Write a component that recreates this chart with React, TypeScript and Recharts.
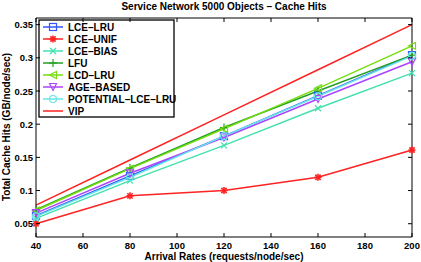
import React from 'react';
import { LineChart, Line, XAxis, YAxis } from 'recharts';

const rates = [40, 80, 120, 160, 200];
const lceLru = [0.062, 0.122, 0.182, 0.243, 0.304];
const lceUnif = [0.05, 0.092, 0.1, 0.12, 0.161];
const lceBias = [0.058, 0.115, 0.168, 0.224, 0.277];
const lfu = [0.071, 0.134, 0.195, 0.25, 0.304];
const lcdLru = [0.07, 0.133, 0.193, 0.254, 0.318];
const ageBased = [0.066, 0.126, 0.18, 0.238, 0.294];
const potentialLceLru = [0.061, 0.12, 0.182, 0.242, 0.303];
const vip = [0.078, 0.146, 0.214, 0.282, 0.35];

const xTicks = [40, 60, 80, 100, 120, 140, 160, 180, 200];
const yTicks = [0.05, 0.1, 0.15, 0.2, 0.25, 0.3, 0.35];

const titleText = 'Service Network 5000 Objects \u2013 Cache Hits';
const xLabelText = 'Arrival Rates (requests/node/sec)';
const yLabelText = 'Total Cache Hits (GB/node/sec)';

const series = [
  { key: 'lceLru', name: 'LCE\u2013LRU', color: '#3355ff', marker: 'square', values: lceLru },
  { key: 'lceUnif', name: 'LCE\u2013UNIF', color: '#ff2222', marker: 'star', values: lceUnif },
  { key: 'lceBias', name: 'LCE\u2013BIAS', color: '#44e0b0', marker: 'x', values: lceBias },
  { key: 'lfu', name: 'LFU', color: '#22a022', marker: 'plus', values: lfu },
  { key: 'lcdLru', name: 'LCD\u2013LRU', color: '#77dd11', marker: 'left', values: lcdLru },
  { key: 'ageBased', name: 'AGE\u2013BASED', color: '#aa44ff', marker: 'down', values: ageBased },
  { key: 'potentialLceLru', name: 'POTENTIAL\u2013LCE\u2013LRU', color: '#66e6e6', marker: 'circle', values: potentialLceLru },
  { key: 'vip', name: 'VIP', color: '#ff2222', marker: 'none', values: vip },
];

const data = rates.map((r, i) => {
  const row: any = { rate: r };
  series.forEach((s) => { row[s.key] = s.values[i]; });
  return row;
});

const FONT = '"Liberation Sans", Arial, Helvetica, sans-serif';

function Marker({ type, cx, cy, color }: any) {
  const r = 3.5;
  if (cx == null || cy == null) return <g />;
  switch (type) {
    case 'square':
      return <rect x={cx - r} y={cy - r} width={2 * r} height={2 * r} fill="none" stroke={color} strokeWidth={1.2} />;
    case 'star':
      return (
        <g stroke={color} strokeWidth={1.6}>
          <line x1={cx - r} y1={cy} x2={cx + r} y2={cy} />
          <line x1={cx} y1={cy - r} x2={cx} y2={cy + r} />
          <line x1={cx - r * 0.75} y1={cy - r * 0.75} x2={cx + r * 0.75} y2={cy + r * 0.75} />
          <line x1={cx - r * 0.75} y1={cy + r * 0.75} x2={cx + r * 0.75} y2={cy - r * 0.75} />
        </g>
      );
    case 'x':
      return (
        <g stroke={color} strokeWidth={1.2}>
          <line x1={cx - 3} y1={cy - 3} x2={cx + 3} y2={cy + 3} />
          <line x1={cx - 3} y1={cy + 3} x2={cx + 3} y2={cy - 3} />
        </g>
      );
    case 'plus':
      return (
        <g stroke={color} strokeWidth={1.2}>
          <line x1={cx - 4} y1={cy} x2={cx + 4} y2={cy} />
          <line x1={cx} y1={cy - 4} x2={cx} y2={cy + 4} />
        </g>
      );
    case 'left':
      return <polygon points={`${cx - r},${cy} ${cx + r},${cy - r} ${cx + r},${cy + r}`} fill="none" stroke={color} strokeWidth={1.2} />;
    case 'down':
      return <polygon points={`${cx - r},${cy - r} ${cx + r},${cy - r} ${cx},${cy + r}`} fill="none" stroke={color} strokeWidth={1.2} />;
    case 'circle':
      return <circle cx={cx} cy={cy} r={r} fill="none" stroke={color} strokeWidth={1.2} />;
    default:
      return <g />;
  }
}

const BottomTick = (props: any) => {
  const { x, y, payload } = props;
  return (
    <g>
      <line x1={x} y1={y} x2={x} y2={y - 4} stroke="#000" strokeWidth={1} />
      <text x={x} y={y + 12} textAnchor="middle" fontFamily={FONT} fontWeight="bold" fontSize={9.5} fill="#000">{payload.value}</text>
    </g>
  );
};
const LeftTick = (props: any) => {
  const { x, y, payload } = props;
  return (
    <g>
      <line x1={x} y1={y} x2={x + 4} y2={y} stroke="#000" strokeWidth={1} />
      <text x={x - 3} y={y + 3.5} textAnchor="end" fontFamily={FONT} fontWeight="bold" fontSize={9.5} fill="#000">{String(payload.value)}</text>
    </g>
  );
};
const TopTick = (props: any) => {
  const { x, y } = props;
  return <line x1={x} y1={y} x2={x} y2={y + 4} stroke="#000" strokeWidth={1} />;
};
const RightTick = (props: any) => {
  const { x, y } = props;
  return <line x1={x} y1={y} x2={x - 4} y2={y} stroke="#000" strokeWidth={1} />;
};

function LegendBox() {
  const left = 39, top = 20, w = 135, rowH = 12, pad = 7;
  return (
    <g>
      <rect x={left} y={top} width={w} height={pad * 2 + rowH * (series.length - 1) - 1} fill="#fff" stroke="#000" strokeWidth={1.3} />
      {series.map((s, i) => {
        const cy = top + pad + i * rowH;
        return (
          <g key={s.key}>
            <line x1={left + 4} y1={cy} x2={left + 24} y2={cy} stroke={s.color} strokeWidth={1.5} />
            <Marker type={s.marker} cx={left + 14} cy={cy} color={s.color} />
            <text x={left + 29} y={cy + 3.5} fontFamily={FONT} fontWeight="bold" fontSize={10} fill="#000">{s.name}</text>
          </g>
        );
      })}
    </g>
  );
}

export default function App() {
  return (
    <div style={{ position: 'absolute', left: 0, top: 0, background: '#fff' }}>
      <LineChart width={421} height={262} data={data} margin={{ top: 17, right: 8, bottom: 0, left: 0 }}>
        <XAxis xAxisId="b" dataKey="rate" type="number" domain={[40, 200]} ticks={xTicks} height={25}
          tickSize={0} tickMargin={0} tickLine={false} axisLine={{ stroke: '#000', strokeWidth: 1 }} tick={<BottomTick />} interval={0} />
        <XAxis xAxisId="t" orientation="top" dataKey="rate" type="number" domain={[40, 200]} ticks={xTicks} height={1}
          tickSize={0} tickMargin={0} tickLine={false} axisLine={{ stroke: '#000', strokeWidth: 1 }} tick={<TopTick />} interval={0} />
        <YAxis yAxisId="l" type="number" domain={[0.03, 0.36]} ticks={yTicks} width={36} allowDataOverflow
          tickSize={0} tickMargin={0} tickLine={false} axisLine={{ stroke: '#000', strokeWidth: 1 }} tick={<LeftTick />} interval={0} />
        <YAxis yAxisId="r" orientation="right" type="number" domain={[0.03, 0.36]} ticks={yTicks} width={1} allowDataOverflow
          tickSize={0} tickMargin={0} tickLine={false} axisLine={{ stroke: '#000', strokeWidth: 1 }} tick={<RightTick />} interval={0} />
        {series.map((s) => (
          <Line key={s.key} xAxisId="b" yAxisId="l" type="linear" dataKey={s.key} name={s.name} stroke={s.color}
            strokeWidth={1.5} isAnimationActive={false}
            dot={s.marker === 'none' ? false : (p: any) => <Marker key={`${s.key}-${p.index}`} type={s.marker} cx={p.cx} cy={p.cy} color={s.color} />} />
        ))}
        <text x={224} y={10} textAnchor="middle" fontFamily={FONT} fontWeight="bold" fontSize={10} fill="#000">{titleText}</text>
        <text x={224} y={260} textAnchor="middle" fontFamily={FONT} fontWeight="bold" fontSize={10} fill="#000">{xLabelText}</text>
        <text x={10} y={127} textAnchor="middle" transform="rotate(-90 10 127)" fontFamily={FONT} fontWeight="bold" fontSize={10} fill="#000">{yLabelText}</text>
        <LegendBox />
      </LineChart>
    </div>
  );
}
